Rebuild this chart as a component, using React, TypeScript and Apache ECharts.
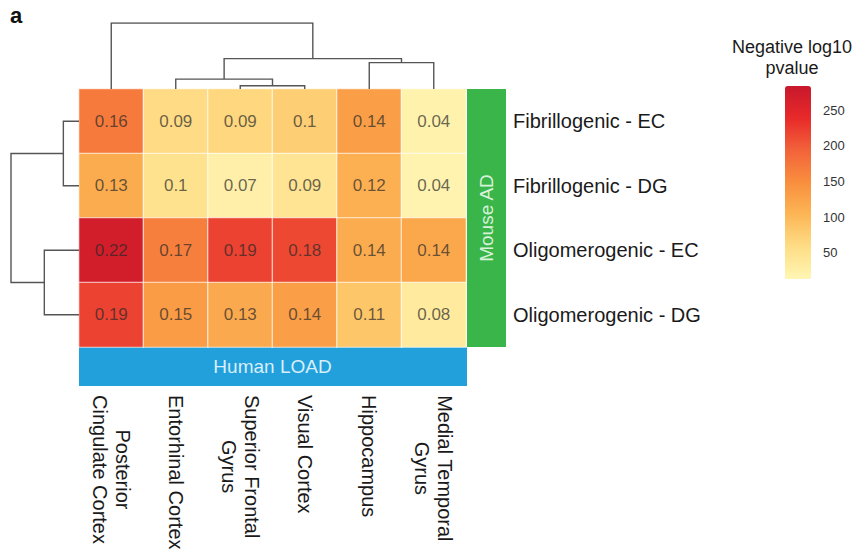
import React, { useEffect, useRef } from 'react';
import * as echarts from 'echarts';

// ---- Data ----
const columns = [
  'Posterior\nCingulate Cortex',
  'Entorhinal Cortex',
  'Superior Frontal\nGyrus',
  'Visual Cortex',
  'Hippocampus',
  'Medial Temporal\nGyrus',
];
const rows = ['Fibrillogenic - EC', 'Fibrillogenic - DG', 'Oligomerogenic - EC', 'Oligomerogenic - DG'];

// displayed values (overlap)
const overlapFibEC = [0.16, 0.09, 0.09, 0.1, 0.14, 0.04];
const overlapFibDG = [0.13, 0.1, 0.07, 0.09, 0.12, 0.04];
const overlapOliEC = [0.22, 0.17, 0.19, 0.18, 0.14, 0.14];
const overlapOliDG = [0.19, 0.15, 0.13, 0.14, 0.11, 0.08];

// negative log10 p-values (colour), estimated from colours
const nlpFibEC = [170, 60, 65, 75, 130, 20];
const nlpFibDG = [115, 50, 25, 45, 110, 18];
const nlpOliEC = [270, 165, 220, 215, 115, 120];
const nlpOliDG = [220, 135, 118, 130, 85, 35];

// dendrogram merges: [clusterA, clusterB, height]; leaves 0..n-1, new clusters n, n+1, ...
const colMerges: [number, number, number][] = [
  [2, 3, 0.05],
  [1, 6, 0.15],
  [4, 5, 0.4],
  [7, 8, 0.46],
  [0, 9, 1],
];
const rowMerges: [number, number, number][] = [
  [0, 1, 0.23],
  [2, 3, 0.51],
  [4, 5, 1],
];

const legendMin = 13;
const legendMax = 284;
const legendColors = ['#fff6b4', '#fedd86', '#fcb655', '#f98f3e', '#f2633a', '#e82a2a', '#c8182c'];

const FONT = "'Liberation Sans', Arial, Helvetica, sans-serif";

function dendroSegments(merges: [number, number, number][], nLeaves: number, horizontal: boolean) {
  const pos: number[] = [];
  const hgt: number[] = [];
  for (let i = 0; i < nLeaves; i++) {
    pos.push(i + 0.5);
    hgt.push(0);
  }
  const out: { coords: number[][] }[] = [];
  merges.forEach(([a, b, h]) => {
    const pts = [
      [pos[a], hgt[a]],
      [pos[a], h],
      [pos[b], h],
      [pos[b], hgt[b]],
    ];
    out.push({ coords: horizontal ? pts.map(([p, v]) => [v, p]) : pts });
    pos.push((pos[a] + pos[b]) / 2);
    hgt.push(h);
  });
  return out;
}

export default function App() {
  const ref = useRef<HTMLDivElement>(null);
  useEffect(() => {
    document.body.style.margin = '0';
    if (!ref.current) return;
    const chart = echarts.init(ref.current, undefined, { renderer: 'svg' });
    const overlap = [overlapFibEC, overlapFibDG, overlapOliEC, overlapOliDG];
    const nlp = [nlpFibEC, nlpFibDG, nlpOliEC, nlpOliDG];
    const heatData: number[][] = [];
    nlp.forEach((row, r) => row.forEach((v, c) => heatData.push([c, r, v])));

    const gx = 79, gy = 89, gw = 387, gh = 258;

    const option: any = {
      animation: false,
      backgroundColor: '#fff',
      grid: [
        { left: gx, top: gy, width: gw, height: gh, outerBoundsMode: 'none' },
        { left: gx, top: 23, width: gw, height: gy - 23, outerBoundsMode: 'none' },
        { left: 11, top: gy, width: gx - 11, height: gh, outerBoundsMode: 'none' },
        { left: 785, top: 86, width: 26, height: 193, outerBoundsMode: 'none' },
      ],
      xAxis: [
        {
          type: 'category',
          gridIndex: 0,
          data: columns,
          position: 'bottom',
          axisLine: { show: false },
          axisTick: { show: false },
          splitLine: { show: false },
          axisLabel: {
            interval: 0,
            rotate: -90,
            margin: 48,
            formatter: (v: string) => v.split('\n').map((l) => `{c|${l}}`).join('\n'),
            rich: { c: { align: 'center', fontSize: 20, lineHeight: 23, color: '#1a1a1a', fontFamily: FONT } },
          },
        },
        { type: 'value', gridIndex: 1, min: 0, max: columns.length, show: false },
        { type: 'value', gridIndex: 2, min: 0, max: 1, inverse: true, show: false },
        { type: 'value', gridIndex: 3, min: 0, max: 1, show: false },
      ],
      yAxis: [
        {
          type: 'category',
          gridIndex: 0,
          data: rows,
          inverse: true,
          position: 'right',
          axisLine: { show: false },
          axisTick: { show: false },
          splitLine: { show: false },
          axisLabel: { margin: 47, fontSize: 20, color: '#1a1a1a', fontFamily: FONT },
        },
        { type: 'value', gridIndex: 1, min: 0, max: 1, show: false },
        { type: 'value', gridIndex: 2, min: 0, max: rows.length, inverse: true, show: false },
        {
          type: 'value',
          gridIndex: 3,
          min: legendMin,
          max: legendMax,
          position: 'right',
          axisLine: { show: false },
          axisTick: { show: false },
          splitLine: { show: false },
          axisLabel: {
            margin: 12,
            fontSize: 13,
            color: '#333',
            fontFamily: FONT,
            formatter: (v: number) => (v % 50 === 0 ? String(v) : ''),
          },
        },
      ],
      visualMap: {
        type: 'continuous',
        seriesIndex: 0,
        min: legendMin,
        max: legendMax,
        left: 785,
        top: 86,
        itemWidth: 26,
        itemHeight: 193,
        padding: 0,
        calculable: false,
        hoverLink: false,
        text: null,
        inRange: { color: legendColors },
      },
      series: [
        {
          type: 'heatmap',
          xAxisIndex: 0,
          yAxisIndex: 0,
          data: heatData,
          itemStyle: { borderColor: 'rgba(255,255,255,0.7)', borderWidth: 1.2 },
          label: {
            show: true,
            fontSize: 17,
            fontFamily: FONT,
            color: 'rgba(40,40,40,0.7)',
            formatter: (p: any) => String(overlap[p.data[1]][p.data[0]]),
          },
          emphasis: { disabled: true },
        },
        {
          type: 'lines',
          coordinateSystem: 'cartesian2d',
          xAxisIndex: 1,
          yAxisIndex: 1,
          polyline: true,
          lineStyle: { color: '#555', width: 1.4, opacity: 1 },
          data: dendroSegments(colMerges, columns.length, false),
          silent: true,
        },
        {
          type: 'lines',
          coordinateSystem: 'cartesian2d',
          xAxisIndex: 2,
          yAxisIndex: 2,
          polyline: true,
          lineStyle: { color: '#555', width: 1.4, opacity: 1 },
          data: dendroSegments(rowMerges, rows.length, true),
          silent: true,
        },
      ],
      graphic: [
        {
          type: 'text',
          left: 10,
          top: 4,
          style: { text: 'a', font: `bold 22px ${FONT}`, fill: '#111' },
        },
        {
          type: 'rect',
          shape: { x: gx, y: gy + gh, width: gw + 1, height: 39 },
          style: { fill: '#22a0dc' },
        },
        {
          type: 'text',
          x: gx + gw / 2,
          y: gy + gh + 19.5,
          style: { text: 'Human LOAD', font: `19px ${FONT}`, fill: '#d8eefa', align: 'center', verticalAlign: 'middle' },
        },
        {
          type: 'rect',
          shape: { x: gx + gw + 1, y: gy, width: 39, height: gh },
          style: { fill: '#3ab54a' },
        },
        {
          type: 'text',
          x: gx + gw + 20.5,
          y: gy + gh / 2,
          rotation: Math.PI / 2,
          style: { text: 'Mouse AD', font: `19px ${FONT}`, fill: '#d8f2d8', align: 'center', verticalAlign: 'middle' },
        },
        {
          type: 'text',
          x: 792,
          y: 36,
          style: {
            text: 'Negative log10\npvalue',
            font: `18px ${FONT}`,
            lineHeight: 21,
            fill: '#1a1a1a',
            align: 'center',
            verticalAlign: 'top',
          },
        },
      ],
    };
    chart.setOption(option);
    return () => chart.dispose();
  }, []);
  return <div ref={ref} style={{ width: 866, height: 551 }} />;
}
